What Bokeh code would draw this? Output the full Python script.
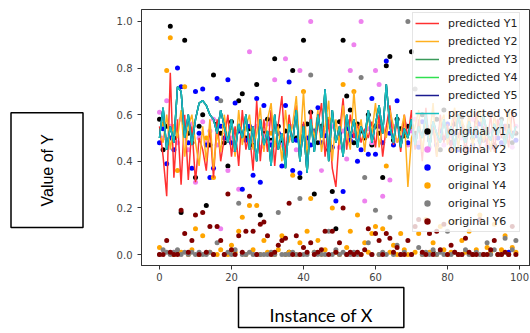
import math
from bokeh.plotting import figure
from bokeh.models import Range1d, Legend, LegendItem, Title, FixedTicker, LinearAxis
from bokeh.embed import file_html
from bokeh.resources import INLINE

x = list(range(100))

pred_y1 = [0.55,0.42,0.25,0.78,0.33,0.58,0.30,0.60,0.32,0.55,0.31,0.50,0.45,0.36,0.55,0.33,0.58,0.40,0.50,0.60,
           0.42,0.55,0.38,0.62,0.45,0.52,0.36,0.66,0.40,0.58,0.44,0.62,0.38,0.56,0.68,0.42,0.60,0.48,0.64,0.40,
           0.57,0.35,0.62,0.46,0.55,0.65,0.42,0.58,0.37,0.29,0.52,0.67,0.45,0.60,0.50,0.56,0.48,0.54,0.50,0.57,
           0.46,0.60,0.42,0.55,0.64,0.47,0.58,0.44,0.60,0.50,0.62,0.45,0.58,0.40,0.63,0.47,0.55,0.42,0.60,0.48,
           0.56,0.44,0.62,0.50,0.57,0.43,0.59,0.49,0.61,0.45,0.55,0.47,0.60,0.44,0.58,0.50,0.56,0.46,0.62,0.52]
pred_y2 = [0.52,0.48,0.60,0.45,0.56,0.50,0.62,0.42,0.55,0.60,0.48,0.38,0.55,0.40,0.58,0.37,0.52,0.44,0.60,0.48,
           0.56,0.42,0.62,0.47,0.55,0.60,0.45,0.52,0.63,0.44,0.58,0.65,0.46,0.55,0.40,0.62,0.48,0.56,0.68,0.45,
           0.70,0.42,0.58,0.50,0.62,0.44,0.55,0.66,0.40,0.58,0.47,0.64,0.52,0.45,0.70,0.50,0.58,0.44,0.60,0.52,
           0.65,0.46,0.56,0.50,0.62,0.55,0.48,0.52,0.60,0.29,0.50,0.55,0.62,0.44,0.58,0.50,0.65,0.42,0.56,0.60,
           0.47,0.55,0.63,0.45,0.58,0.52,0.60,0.46,0.57,0.62,0.48,0.55,0.44,0.60,0.52,0.57,0.46,0.62,0.50,0.55]
pred_y6 = [0.50,0.63,0.45,0.55,0.48,0.72,0.70,0.50,0.60,0.47,0.58,0.65,0.66,0.64,0.60,0.58,0.52,0.62,0.55,0.48,
           0.58,0.44,0.56,0.50,0.60,0.45,0.55,0.40,0.58,0.47,0.53,0.38,0.60,0.45,0.52,0.37,0.56,0.48,0.62,0.40,
           0.55,0.35,0.58,0.44,0.60,0.50,0.71,0.40,0.62,0.48,0.55,0.42,0.60,0.50,0.58,0.46,0.55,0.50,0.62,0.48,
           0.56,0.64,0.52,0.73,0.55,0.48,0.60,0.46,0.54,0.50,0.58,0.47,0.55,0.50,0.60,0.45,0.57,0.52,0.48,0.58,
           0.50,0.55,0.46,0.60,0.52,0.48,0.57,0.50,0.55,0.47,0.60,0.52,0.49,0.56,0.51,0.58,0.47,0.54,0.50,0.55]
# predicted Y3..Y5 lie underneath predicted Y6 in the picture
pred_y3 = pred_y6
pred_y4 = pred_y6
pred_y5 = pred_y6

orig_y1 = [0.58,0.45,0.55,0.98,0.50,0.01,0.18,0.92,0.52,0.48,0.33,0.55,0.60,0.21,0.47,0.77,0.56,0.52,0.48,0.38,
           0.57,0.45,0.66,0.69,0.50,0.54,0.47,0.73,0.17,0.52,0.58,0.49,0.84,0.55,0.48,0.53,0.01,0.79,0.50,0.33,
           0.92,0.56,0.61,0.26,0.48,0.55,0.52,0.45,0.27,0.11,0.57,0.92,0.68,0.62,0.48,0.56,0.53,0.50,0.60,0.47,
           0.55,0.52,0.33,0.81,0.85,0.49,0.58,0.54,0.51,0.55,0.87,0.52,0.47,0.60,0.55,0.50,0.01,0.58,0.45,0.62,
           0.53,0.48,0.56,0.51,0.59,0.46,0.54,0.50,0.57,0.49,0.55,0.52,0.60,0.47,0.53,0.58,0.50,0.55,0.48,0.52]
orig_y2 = [0.61,0.50,0.66,0.55,0.01,0.48,0.58,0.52,0.45,0.56,0.31,0.50,0.57,0.48,0.53,0.58,0.47,0.11,0.55,0.36,
           0.50,0.45,0.28,0.52,0.57,0.87,0.49,0.55,0.46,0.51,0.56,0.48,0.75,0.52,0.47,0.84,0.50,0.55,0.45,0.79,
           0.53,0.48,1.00,0.50,0.56,0.36,0.52,0.47,0.55,0.50,0.46,0.53,0.41,0.79,0.90,0.50,1.00,0.23,0.54,0.48,
           0.79,0.73,0.25,0.52,0.32,0.55,0.49,0.50,0.56,0.47,0.53,0.58,0.48,0.52,0.55,0.46,0.60,0.50,0.54,0.47,
           0.56,0.51,0.48,0.57,0.50,0.53,0.45,0.58,0.52,0.49,0.55,0.47,0.53,0.50,0.57,0.48,0.54,0.51,0.46,0.55]
orig_y3 = [0.48,0.54,0.39,0.50,0.45,0.80,0.72,0.55,0.48,0.37,0.70,0.52,0.71,0.47,0.33,0.37,0.67,0.55,0.50,0.75,
           0.48,0.65,0.53,0.28,0.49,0.55,0.34,0.67,0.31,0.64,0.50,0.47,0.55,0.52,0.38,0.64,0.74,0.36,0.49,0.35,
           0.55,0.50,0.47,0.53,0.63,0.48,0.51,0.55,0.46,0.23,0.52,0.27,0.54,0.49,0.51,0.40,0.45,0.52,0.43,0.67,
           0.43,0.55,0.48,0.83,0.52,0.47,0.66,0.50,0.53,0.48,0.55,0.50,0.46,0.57,0.52,0.49,0.55,0.47,0.53,0.50,
           0.56,0.48,0.52,0.45,0.55,0.50,0.53,0.47,0.51,0.56,0.49,0.52,0.46,0.54,0.50,0.48,0.55,0.01,0.52,0.49]
orig_y4 = [0.03,0.56,0.79,0.93,0.00,0.36,0.01,0.72,0.00,0.02,0.11,0.00,0.08,0.50,0.01,0.33,0.00,0.02,0.55,0.00,
           0.04,0.01,0.10,0.16,0.00,0.21,0.02,0.21,0.00,0.06,0.01,0.52,0.00,0.02,0.08,0.00,0.01,0.34,0.00,0.05,
           0.70,0.10,0.24,0.01,0.06,0.00,0.02,0.58,0.20,0.01,0.00,0.73,0.03,0.10,0.70,0.17,0.00,0.05,0.01,0.09,
           0.12,0.00,0.11,0.38,0.01,0.04,0.00,0.09,0.02,0.00,0.55,0.01,0.09,0.00,0.15,0.01,0.05,0.00,0.12,0.02,
           0.00,0.01,0.14,0.00,0.06,0.01,0.10,0.00,0.02,0.17,0.00,0.03,0.01,0.13,0.00,0.02,0.08,0.00,0.03,0.01]
orig_y5 = [0.00,0.02,0.01,0.00,0.01,0.02,0.00,0.01,0.00,0.01,0.00,0.01,0.00,0.00,0.01,0.00,0.05,0.66,0.00,0.01,
           0.00,0.02,0.22,0.00,0.00,0.01,0.00,0.00,0.00,0.00,0.00,0.01,0.00,0.18,0.00,0.00,0.00,0.01,0.00,0.24,
           0.00,0.00,0.77,0.01,0.00,0.00,0.00,0.10,0.00,0.02,0.00,0.01,0.00,0.00,0.01,0.00,0.76,0.33,0.05,0.00,
           0.19,0.00,0.01,0.00,0.16,0.00,0.04,0.00,0.01,1.00,0.00,0.71,0.03,0.00,0.01,0.00,0.02,0.00,0.01,0.00,
           0.10,0.00,0.01,0.00,0.00,0.02,0.00,0.00,0.01,0.00,0.00,0.05,0.00,0.02,0.00,0.00,0.07,0.00,0.02,0.06]
orig_y6 = [0.00,0.00,0.06,0.01,0.00,0.00,0.19,0.09,0.01,0.06,0.17,0.00,0.18,0.01,0.12,0.00,0.12,0.06,0.00,0.26,
           0.02,0.00,0.08,0.01,0.10,0.25,0.10,0.00,0.13,0.14,0.08,0.00,0.01,0.04,0.06,0.07,0.22,0.00,0.08,0.00,
           0.03,0.01,0.05,0.00,0.01,0.02,0.10,0.00,0.10,0.01,0.05,0.20,0.00,0.01,0.00,0.01,0.00,0.02,0.11,0.00,
           0.09,0.06,0.00,0.09,0.07,0.01,0.03,0.00,0.00,0.06,0.00,0.12,0.15,0.01,0.00,0.09,0.00,0.10,0.02,0.13,
           0.00,0.04,0.01,0.00,0.00,0.07,0.01,0.00,0.00,0.15,0.00,0.00,0.02,0.06,0.00,0.00,0.01,0.00,0.12,0.00]

x_ticks = [0, 20, 40, 60, 80, 100]
y_ticks = [0.0, 0.2, 0.4, 0.6, 0.8, 1.0]

pred_series = [("predicted Y1", pred_y1, "#ff3030"), ("predicted Y2", pred_y2, "#ffb020"),
               ("predicted Y3", pred_y3, "#3a9a5a"), ("predicted Y4", pred_y4, "#30e050"),
               ("predicted Y5", pred_y5, "#1a1a90"), ("predicted Y6", pred_y6, "#18c0c0")]
orig_series = [("original Y1", orig_y1, "black"), ("original Y2", orig_y2, "violet"),
               ("original Y3", orig_y3, "blue"), ("original Y4", orig_y4, "orange"),
               ("original Y5", orig_y5, "gray"), ("original Y6", orig_y6, "#800000")]

p = figure(width=530, height=333, output_backend="svg", toolbar_location=None,
           x_range=Range1d(-5.0, 103.06), y_range=Range1d(-0.0472, 1.0515),
           min_border_left=141, min_border_top=9, min_border_right=0, min_border_bottom=68)
p.xgrid.visible = False
p.ygrid.visible = False
p.outline_line_color = "#333333"
p.outline_line_width = 1
p.background_fill_color = "white"
p.border_fill_color = "white"

for ax in (p.xaxis[0], p.yaxis[0]):
    ax.axis_line_color = "#333333"
    ax.major_tick_line_color = "#333333"
    ax.major_tick_out = 4
    ax.major_tick_in = 0
    ax.minor_tick_line_color = None
    ax.major_label_text_font = "DejaVu Sans"
    ax.major_label_text_font_size = "10px"
    ax.major_label_text_color = "#444444"
p.xaxis[0].ticker = FixedTicker(ticks=x_ticks)
p.yaxis[0].ticker = FixedTicker(ticks=y_ticks)
p.xaxis[0].major_label_overrides = {t: str(t) for t in x_ticks}
p.yaxis[0].major_label_overrides = {t: f"{t:.1f}" for t in y_ticks}
p.xaxis[0].major_label_standoff = 3
p.yaxis[0].major_label_standoff = 5

scatter_r = {}
for name, ys, col in orig_series:
    scatter_r[name] = p.scatter(x, ys, size=5, color=col, line_width=0)
line_r = {}
for name, ys, col in pred_series:
    line_r[name] = p.line(x, ys, color=col, line_width=1.5)

items = [LegendItem(label=n, renderers=[line_r[n]]) for n, _, _ in pred_series]
items += [LegendItem(label=n, renderers=[scatter_r[n]]) for n, _, _ in orig_series]
legend = Legend(items=items, location=(271, 33), orientation="vertical",
                label_text_font="DejaVu Sans", label_text_font_size="11px",
                label_text_color="#222222", glyph_width=24, glyph_height=16,
                label_height=16, spacing=2, padding=2, margin=0, label_standoff=9,
                background_fill_alpha=0.8, border_line_color="#cccccc",
                border_line_width=1)
p.add_layout(legend, "center")

# blank spacer between the y axis and the boxed label (white tick on white, no label)
spacer = LinearAxis(ticker=FixedTicker(ticks=[0.5]), major_tick_out=31, major_tick_in=0,
                    major_tick_line_color="white", minor_tick_line_color=None,
                    axis_line_color=None, major_label_standoff=0,
                    major_label_overrides={0.5: ""}, major_label_text_font_size="1px")
p.add_layout(spacer, "left")

ytitle = Title(text="Value of Y", align="left", vertical_align="middle", offset=38,
               text_font="Liberation Sans", text_font_size="16px", text_color="black",
               text_font_style="normal",
               border_line_color="black", border_line_width=1.5, background_fill_color="white",
               padding=dict(left=21, right=21, top=28, bottom=27))
xtitle = Title(text="Instance of X", align="left", vertical_align="top", offset=97, standoff=8,
               text_font="Lato", text_font_size="18px", text_color="black",
               text_font_style="normal",
               border_line_color="black", border_line_width=1.5, background_fill_color="white",
               padding=dict(left=31, right=31, top=16, bottom=2))
p.add_layout(ytitle, "left")
p.add_layout(xtitle, "below")

open("out.html", "w").write(file_html(p, INLINE))
